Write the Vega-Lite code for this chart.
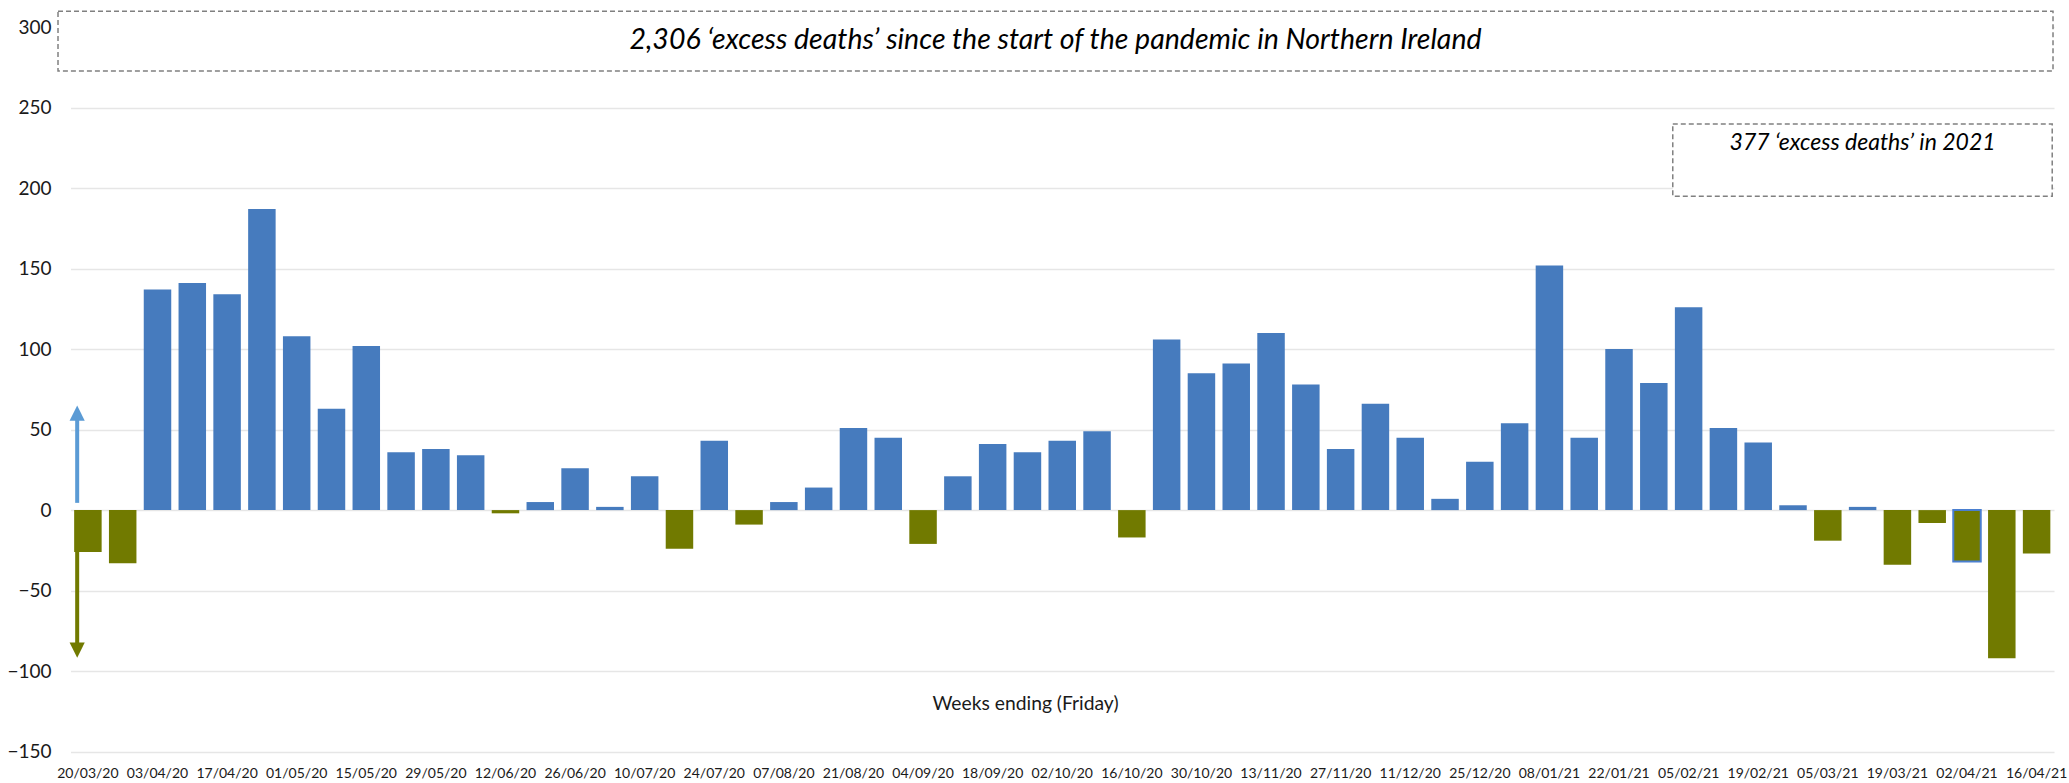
{
  "$schema": "https://vega.github.io/schema/vega-lite/v6.json",
  "width": 1983.5,
  "height": 740.6,
  "autosize": {"type": "none"},
  "padding": {"left": 70.5, "top": 11, "right": 15.5, "bottom": 31.4},
  "background": "#ffffff",
  "config": {
    "view": {"stroke": null},
    "font": "Lato",
    "axis": {"labelFont": "Lato", "titleFont": "Lato"}
  },
  "datasets": {
    "weeks": [
      {"week": "20/03/20", "excess": -26},
      {"week": "27/03/20", "excess": -33},
      {"week": "03/04/20", "excess": 137},
      {"week": "10/04/20", "excess": 141},
      {"week": "17/04/20", "excess": 134},
      {"week": "24/04/20", "excess": 187},
      {"week": "01/05/20", "excess": 108},
      {"week": "08/05/20", "excess": 63},
      {"week": "15/05/20", "excess": 102},
      {"week": "22/05/20", "excess": 36},
      {"week": "29/05/20", "excess": 38},
      {"week": "05/06/20", "excess": 34},
      {"week": "12/06/20", "excess": -2},
      {"week": "19/06/20", "excess": 5},
      {"week": "26/06/20", "excess": 26},
      {"week": "03/07/20", "excess": 2},
      {"week": "10/07/20", "excess": 21},
      {"week": "17/07/20", "excess": -24},
      {"week": "24/07/20", "excess": 43},
      {"week": "31/07/20", "excess": -9},
      {"week": "07/08/20", "excess": 5},
      {"week": "14/08/20", "excess": 14},
      {"week": "21/08/20", "excess": 51},
      {"week": "28/08/20", "excess": 45},
      {"week": "04/09/20", "excess": -21},
      {"week": "11/09/20", "excess": 21},
      {"week": "18/09/20", "excess": 41},
      {"week": "25/09/20", "excess": 36},
      {"week": "02/10/20", "excess": 43},
      {"week": "09/10/20", "excess": 49},
      {"week": "16/10/20", "excess": -17},
      {"week": "23/10/20", "excess": 106},
      {"week": "30/10/20", "excess": 85},
      {"week": "06/11/20", "excess": 91},
      {"week": "13/11/20", "excess": 110},
      {"week": "20/11/20", "excess": 78},
      {"week": "27/11/20", "excess": 38},
      {"week": "04/12/20", "excess": 66},
      {"week": "11/12/20", "excess": 45},
      {"week": "18/12/20", "excess": 7},
      {"week": "25/12/20", "excess": 30},
      {"week": "01/01/21", "excess": 54},
      {"week": "08/01/21", "excess": 152},
      {"week": "15/01/21", "excess": 45},
      {"week": "22/01/21", "excess": 100},
      {"week": "29/01/21", "excess": 79},
      {"week": "05/02/21", "excess": 126},
      {"week": "12/02/21", "excess": 51},
      {"week": "19/02/21", "excess": 42},
      {"week": "26/02/21", "excess": 3},
      {"week": "05/03/21", "excess": -19},
      {"week": "12/03/21", "excess": 2},
      {"week": "19/03/21", "excess": -34},
      {"week": "26/03/21", "excess": -8},
      {"week": "02/04/21", "excess": -32},
      {"week": "09/04/21", "excess": -92},
      {"week": "16/04/21", "excess": -27}
    ],
    "arrows": [
      {"week": "20/03/20", "dir": "up", "start": 4.5, "end": 57, "head": 60.2},
      {"week": "20/03/20", "dir": "down", "start": 0, "end": -84, "head": -87}
    ],
    "notes": [
      {"label": "2,306 ‘excess deaths’ since the start of the pandemic in Northern Ireland", "left": -0.0063, "right": 0.9995, "top": 309.9, "bottom": 272.7, "cx": 0.4966, "cy": 291.9, "size": "big"},
      {"label": "377 ‘excess deaths’ in 2021", "left": 0.8078, "right": 0.9991, "top": 239.8, "bottom": 195, "cx": 0.9035, "cy": 228, "size": "small"}
    ]
  },
  "layer": [
    {
      "layer": [
        {
          "data": {"name": "weeks"},
          "mark": {"type": "bar", "strokeWidth": 2},
          "encoding": {
            "x": {
              "field": "week",
              "type": "ordinal",
              "sort": null,
              "scale": {
                "domain": ["20/03/20","27/03/20","03/04/20","10/04/20","17/04/20","24/04/20","01/05/20","08/05/20","15/05/20","22/05/20","29/05/20","05/06/20","12/06/20","19/06/20","26/06/20","03/07/20","10/07/20","17/07/20","24/07/20","31/07/20","07/08/20","14/08/20","21/08/20","28/08/20","04/09/20","11/09/20","18/09/20","25/09/20","02/10/20","09/10/20","16/10/20","23/10/20","30/10/20","06/11/20","13/11/20","20/11/20","27/11/20","04/12/20","11/12/20","18/12/20","25/12/20","01/01/21","08/01/21","15/01/21","22/01/21","29/01/21","05/02/21","12/02/21","19/02/21","26/02/21","05/03/21","12/03/21","19/03/21","26/03/21","02/04/21","09/04/21","16/04/21"],
                "paddingInner": 0.21,
                "paddingOuter": 0.105
              },
              "axis": {
                "values": ["20/03/20","03/04/20","17/04/20","01/05/20","15/05/20","29/05/20","12/06/20","26/06/20","10/07/20","24/07/20","07/08/20","21/08/20","04/09/20","18/09/20","02/10/20","16/10/20","30/10/20","13/11/20","27/11/20","11/12/20","25/12/20","08/01/21","22/01/21","05/02/21","19/02/21","05/03/21","19/03/21","02/04/21","16/04/21"],
                "labelAngle": 0,
                "ticks": false,
                "domain": false,
                "grid": false,
                "labelFontSize": 14,
                "labelColor": "#1a1a1a",
                "labelBaseline": "top",
                "labelPadding": 15,
                "title": "Weeks ending (Friday)",
                "titleFontSize": 19.3,
                "titleFontWeight": "normal",
                "titleColor": "#1a1a1a",
                "titleBaseline": "middle",
                "titleAlign": "center",
                "titleX": 954.5,
                "titleY": -48.5
              }
            },
            "y": {
              "field": "excess",
              "type": "quantitative",
              "scale": {"domain": [-150, 310], "nice": false, "zero": false},
              "axis": {
                "values": [-150, -100, -50, 0, 50, 100, 150, 200, 250, 300],
                "title": null,
                "ticks": false,
                "domain": false,
                "grid": true,
                "gridColor": "#e6e6e6",
                "gridWidth": 1.5,
                "labelFontSize": 19,
                "labelColor": "#1a1a1a",
                "labelPadding": 19.5
              }
            },
            "color": {
              "condition": {"test": "datum.excess < 0", "value": "#717a00"},
              "value": "#467bbe"
            },
            "stroke": {
              "condition": {"test": "datum.week === '02/04/21'", "value": "#4a7fd0"},
              "value": null
            }
          }
        },
        {
          "data": {"name": "arrows"},
          "mark": {"type": "rule", "strokeWidth": 4},
          "encoding": {
            "x": {"field": "week", "type": "ordinal", "sort": null, "bandPosition": 0.11},
            "y": {"field": "start", "type": "quantitative"},
            "y2": {"field": "end"},
            "color": {
              "condition": {"test": "datum.dir === 'up'", "value": "#5b9bd5"},
              "value": "#717a00"
            }
          }
        },
        {
          "data": {"name": "arrows"},
          "mark": {"type": "point", "filled": true, "size": 256, "opacity": 1},
          "encoding": {
            "x": {"field": "week", "type": "ordinal", "sort": null, "bandPosition": 0.11},
            "y": {"field": "head", "type": "quantitative"},
            "shape": {
              "condition": {"test": "datum.dir === 'up'", "value": "M0,-0.95L0.95,0.95L-0.95,0.95Z"},
              "value": "M0,0.95L0.95,-0.95L-0.95,-0.95Z"
            },
            "color": {
              "condition": {"test": "datum.dir === 'up'", "value": "#5b9bd5"},
              "value": "#717a00"
            }
          }
        }
      ]
    },
    {
      "data": {"name": "notes"},
      "layer": [
        {
          "mark": {"type": "rect", "fill": "#ffffff", "stroke": "#808080", "strokeWidth": 1.5, "strokeDash": [5, 3], "clip": false},
          "encoding": {
            "x": {"field": "left", "type": "quantitative", "scale": {"domain": [0, 1], "nice": false, "zero": false}, "axis": null},
            "x2": {"field": "right"},
            "y": {"field": "top", "type": "quantitative"},
            "y2": {"field": "bottom"}
          }
        },
        {
          "mark": {"type": "text", "fontStyle": "italic", "color": "#000000", "align": "center", "baseline": "middle"},
          "encoding": {
            "x": {"field": "cx", "type": "quantitative", "axis": null},
            "y": {"field": "cy", "type": "quantitative"},
            "text": {"field": "label"},
            "size": {
              "condition": {"test": "datum.size === 'big'", "value": 28.5},
              "value": 23
            }
          }
        }
      ]
    }
  ],
  "resolve": {"scale": {"x": "independent"}}
}
